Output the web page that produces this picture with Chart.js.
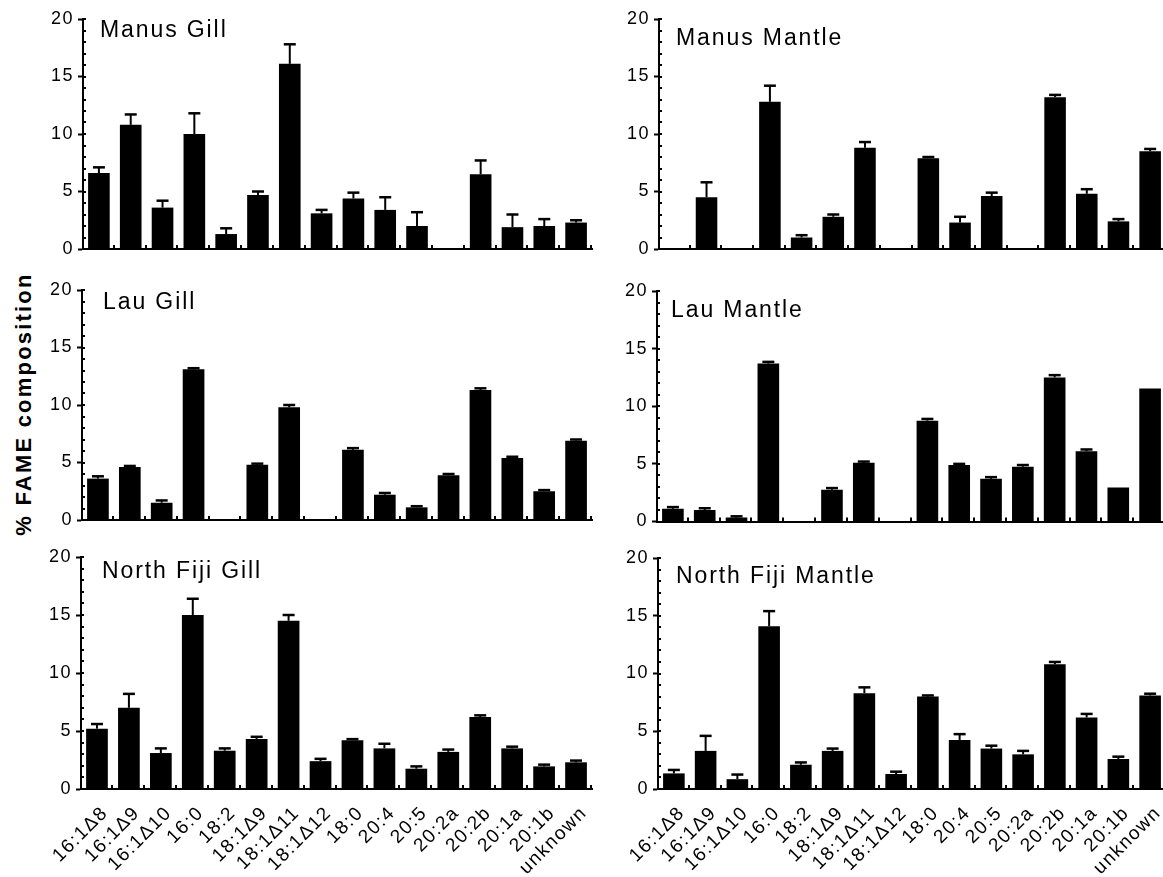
<!DOCTYPE html>
<html>
<head>
<meta charset="utf-8">
<script src="https://cdn.jsdelivr.net/npm/chart.js@4.4.0/dist/chart.umd.min.js"></script>
<style>
  html, body { margin: 0; padding: 0; background: #fff; width: 1163px; height: 877px; overflow: hidden; }
  canvas { position: absolute; }
  #y-title {
    position: absolute; left: 24px; top: 404px;
    transform: translate(-50%, -50%) rotate(-90deg);
    font: bold 22px "Liberation Sans", Arial, sans-serif;
    letter-spacing: 2.2px; white-space: nowrap; color: #000;
  }
</style>
</head>
<body>
<div id="y-title">% FAME composition</div>
<script>
'use strict';

const categories = ['16:1Δ8', '16:1Δ9', '16:1Δ10', '16:0', '18:2', '18:1Δ9', '18:1Δ11', '18:1Δ12', '18:0', '20:4', '20:5', '20:2a', '20:2b', '20:1a', '20:1b', 'unknown'];
const yMin = 0;
const yMax = 20;
const yStep = 5;

// mean % and upper error (SD) for each fatty acid
const manusGill = [6.6, 10.8, 3.6, 10.0, 1.3, 4.7, 16.1, 3.1, 4.4, 3.4, 2.0, 0, 6.5, 1.9, 2.0, 2.3];
const manusGillErr = [0.5, 0.9, 0.6, 1.8, 0.5, 0.3, 1.7, 0.3, 0.5, 1.1, 1.2, 0, 1.2, 1.1, 0.6, 0.2];

const manusMantle = [0, 4.5, 0, 12.8, 1.0, 2.8, 8.8, 0, 7.9, 2.3, 4.6, 0, 13.2, 4.8, 2.4, 8.5];
const manusMantleErr = [0, 1.3, 0, 1.4, 0.2, 0.2, 0.5, 0, 0.1, 0.5, 0.3, 0, 0.2, 0.4, 0.2, 0.2];

const lauGill = [3.6, 4.6, 1.5, 13.1, 0, 4.8, 9.8, 0, 6.1, 2.2, 1.1, 3.9, 11.3, 5.4, 2.5, 6.9];
const lauGillErr = [0.2, 0.1, 0.2, 0.1, 0, 0.1, 0.2, 0, 0.15, 0.15, 0.1, 0.1, 0.15, 0.1, 0.1, 0.1];

const lauMantle = [1.1, 1.0, 0.35, 13.7, 0, 2.75, 5.1, 0, 8.75, 4.9, 3.7, 4.75, 12.5, 6.1, 2.95, 11.55];
const lauMantleErr = [0.15, 0.15, 0.1, 0.15, 0, 0.15, 0.1, 0, 0.15, 0.1, 0.15, 0.15, 0.2, 0.15, 0, 0];

const fijiGill = [5.2, 7.0, 3.1, 15.0, 3.3, 4.3, 14.5, 2.4, 4.2, 3.5, 1.75, 3.2, 6.2, 3.5, 1.95, 2.3];
const fijiGillErr = [0.4, 1.2, 0.4, 1.4, 0.2, 0.2, 0.5, 0.2, 0.1, 0.4, 0.2, 0.2, 0.15, 0.15, 0.15, 0.15];

const fijiMantle = [1.35, 3.3, 0.85, 14.1, 2.1, 3.3, 8.3, 1.3, 8.0, 4.25, 3.5, 3.0, 10.8, 6.2, 2.6, 8.1];
const fijiMantleErr = [0.3, 1.3, 0.4, 1.3, 0.2, 0.2, 0.5, 0.2, 0.1, 0.5, 0.25, 0.3, 0.2, 0.3, 0.2, 0.15];


const FONT = '"Liberation Sans", Arial, Helvetica, sans-serif';

// box = canvas [left, top, width, height], area = plot [left, top, right, bottom], page px
const panels = [
  { title: 'Manus Gill', data: manusGill, err: manusGillErr, box: [0, 0, 600, 270], area: [83, 19, 592, 249], titleAt: [100, 37], labels: false },
  { title: 'Manus Mantle', data: manusMantle, err: manusMantleErr, box: [600, 0, 566, 270], area: [659, 19, 1166, 249], titleAt: [676, 45], labels: false },
  { title: 'Lau Gill', data: lauGill, err: lauGillErr, box: [0, 270, 600, 270], area: [82, 290, 592, 520], titleAt: [103, 308.5], labels: false },
  { title: 'Lau Mantle', data: lauMantle, err: lauMantleErr, box: [600, 270, 566, 270], area: [657, 291, 1166, 521.5], titleAt: [671, 317], labels: false },
  { title: 'North Fiji Gill', data: fijiGill, err: fijiGillErr, box: [0, 540, 600, 337], area: [81, 557, 592, 789], titleAt: [102, 578], labels: true },
  { title: 'North Fiji Mantle', data: fijiMantle, err: fijiMantleErr, box: [600, 540, 566, 337], area: [658, 558, 1166, 789], titleAt: [676, 583], labels: true }
];


// wider tracking, like the original figure's lettering
const spacing = {
  id: 'spacing',
  beforeDraw(chart) {
    chart.ctx.letterSpacing = '1.5px';
  }
};

const errorBars = {
  id: 'errorBars',
  afterDatasetsDraw(chart) {
    const ctx = chart.ctx;
    const ds = chart.data.datasets[0];
    const y = chart.scales.y;
    chart.getDatasetMeta(0).data.forEach(function (bar, i) {
      const sd = ds.errors[i];
      if (!sd) {
        return;
      }
      const top = y.getPixelForValue(ds.data[i] + sd);
      ctx.save();
      ctx.strokeStyle = '#000';
      ctx.lineWidth = 2;
      ctx.beginPath();
      ctx.moveTo(bar.x, bar.y);
      ctx.lineTo(bar.x, top);
      ctx.stroke();
      ctx.lineWidth = 2.5;
      ctx.beginPath();
      ctx.moveTo(bar.x - 6, top);
      ctx.lineTo(bar.x + 6, top);
      ctx.stroke();
      ctx.restore();
    });
  }
};

// small inward marks: between categories on x, every unit on y
const axisMarks = {
  id: 'axisMarks',
  afterDraw(chart) {
    const ctx = chart.ctx;
    const area = chart.chartArea;
    const y = chart.scales.y;
    const n = chart.data.labels.length;
    const w = (area.right - area.left) / n;
    ctx.save();
    ctx.fillStyle = '#000';
    for (let i = 1; i <= n; i++) {
      const x = Math.round(area.left + i * w);
      ctx.fillRect(x - 2, area.bottom - 4, 2, 4);
    }
    for (let v = yMin + 1; v <= yMax; v++) {
      const py = Math.round(y.getPixelForValue(v));
      ctx.fillRect(area.left, py - 1, 3, 2);
    }
    ctx.restore();
  }
};

const panelTitle = {
  id: 'panelTitle',
  afterDraw(chart, args, opts) {
    const ctx = chart.ctx;
    ctx.save();
    ctx.letterSpacing = '1.9px';
    ctx.fillStyle = '#000';
    ctx.font = '23px ' + FONT;
    ctx.textAlign = 'left';
    ctx.textBaseline = 'alphabetic';
    ctx.fillText(opts.text, opts.x, opts.y);
    ctx.restore();
  }
};


function drawPanel(p) {
  const canvas = document.createElement('canvas');
  canvas.width = p.box[2];
  canvas.height = p.box[3];
  canvas.style.left = p.box[0] + 'px';
  canvas.style.top = p.box[1] + 'px';
  canvas.style.width = p.box[2] + 'px';
  canvas.style.height = p.box[3] + 'px';
  document.body.appendChild(canvas);

  const left = p.area[0] - p.box[0];
  const top = p.area[1] - p.box[1];
  const right = p.area[2] - p.box[0];
  const bottom = p.area[3] - p.box[1];

  new Chart(canvas, {
    type: 'bar',
    data: {
      labels: categories,
      datasets: [{
        data: p.data,
        errors: p.err,
        backgroundColor: '#000',
        borderWidth: 0,
        barPercentage: 0.68,
        categoryPercentage: 1
      }]
    },
    options: {
      responsive: false,
      animation: false,
      devicePixelRatio: 1,
      layout: { padding: { left: 0, top: top, right: p.box[2] - right, bottom: 0 } },
      plugins: {
        legend: { display: false },
        tooltip: { enabled: false },
        panelTitle: { text: p.title, x: p.titleAt[0] - p.box[0], y: p.titleAt[1] - p.box[1] }
      },
      scales: {
        x: {
          grid: { display: true, drawOnChartArea: false, drawTicks: false },
          border: { display: true, color: '#000', width: 2 },
          ticks: {
            display: p.labels,
            autoSkip: false,
            minRotation: 45,
            maxRotation: 45,
            padding: 13,
            labelOffset: 8,
            color: '#000',
            font: { family: FONT, size: 19 }
          },
          afterFit: function (s) {
            s.height = p.box[3] - bottom;
            s.paddingLeft = 0;
            s.paddingRight = 0;
          }
        },
        y: {
          min: yMin,
          max: yMax,
          ticks: {
            stepSize: yStep,
            padding: 4,
            color: '#000',
            font: { family: FONT, size: 18 }
          },
          grid: { drawOnChartArea: false, tickLength: 5, tickWidth: 2, tickColor: '#000' },
          border: { display: true, color: '#000', width: 2 },
          afterFit: function (s) {
            s.width = left;
            s.paddingTop = 0;
            s.paddingBottom = 0;
          }
        }
      }
    },
    plugins: [spacing, errorBars, axisMarks, panelTitle]
  });
}

for (let i = 0; i < panels.length; i++) {
  drawPanel(panels[i]);
}
</script>
</body>
</html>
